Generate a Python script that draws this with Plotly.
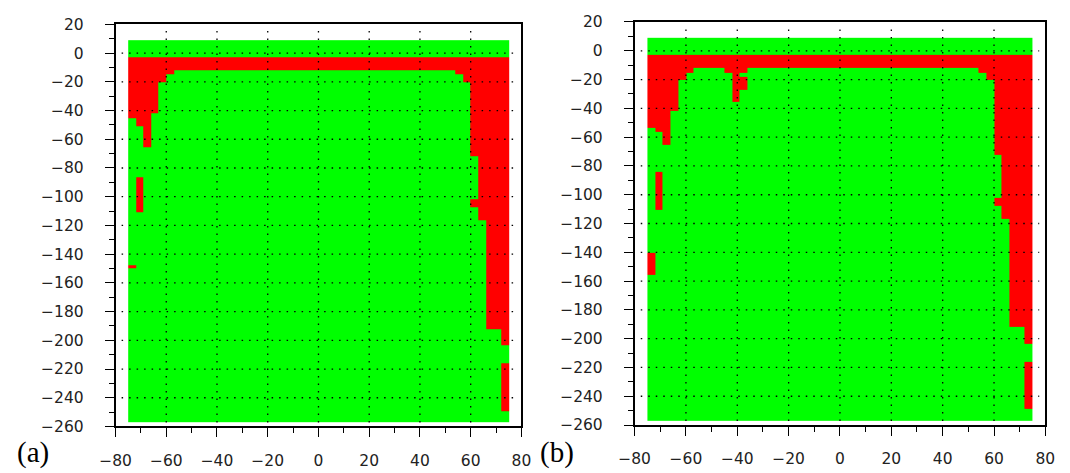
import plotly.graph_objects as go

# ---------------- data ----------------
COLUMN_EDGES = list(range(-75, 78, 3))     # 50 cells, 3 units wide
BAND_TOP = -3                               # top of the red band
DOMAIN_Y = [-257, 9]                        # green domain vertical extent

# depth reached by the red region hanging from the top band, per column
A_DEPTH = [-45, -51, -65.5, -42, -20, -15,
           -12, -12, -12, -12, -12, -12, -12, -12, -12, -12,
           -12, -12, -12, -12, -12, -12, -12, -12, -12, -12,
           -12, -12, -12, -12, -12, -12, -12, -12, -12, -12,
           -12, -12, -12, -12, -12, -12, -12,
           -15, -20, -72, -116.5, -192, -192, -203.5]

B_DEPTH = [-53.5, -56.5, -65.5, -42, -20, -15,
           -12, -12, -12, -12, -15, -35.5, -15, -12, -12, -12,
           -12, -12, -12, -12, -12, -12, -12, -12, -12, -12,
           -12, -12, -12, -12, -12, -12, -12, -12, -12, -12,
           -12, -12, -12, -12, -12, -12, -12,
           -15, -20, -72, -116.5, -192, -192, -203.5]

# isolated red cells: column left edge, top, bottom
A_PATCH_X = [-72, -75, 60, 72]
A_PATCH_TOP = [-86.5, -147.5, -102, -216]
A_PATCH_BOT = [-110.5, -149.5, -107.5, -249]

B_PATCH_X = [-72, -75, 60, 72, -39]
B_PATCH_TOP = [-84, -140.5, -102, -216, -18]
B_PATCH_BOT = [-110.5, -155.5, -107.5, -249, -27]

X_TICKS = [-80, -60, -40, -20, 0, 20, 40, 60, 80]
Y_TICKS = [20, 0, -20, -40, -60, -80, -100, -120, -140, -160, -180,
           -200, -220, -240, -260]
GRID_X = [-60, -40, -20, 0, 20, 40, 60]
GRID_Y = [0, -20, -40, -60, -80, -100, -120, -140, -160, -180, -200,
          -220, -240]
PANEL_LABELS = ["(a)", "(b)"]

GREEN = "#00ff00"
RED = "#ff0000"

W, H = 1070, 473
fig = go.Figure()


def state_grid(depth, px, ptop, pbot):
    """Build the green(0)/red(1) cell table from the read values."""
    y_edges = sorted(set([DOMAIN_Y[0], DOMAIN_Y[1], BAND_TOP] + depth
                         + ptop + pbot))
    z = []
    for k in range(len(y_edges) - 1):
        yc = (y_edges[k] + y_edges[k + 1]) / 2
        row = []
        for j in range(len(COLUMN_EDGES) - 1):
            red = depth[j] < yc < BAND_TOP
            for x0, t, b in zip(px, ptop, pbot):
                if x0 == COLUMN_EDGES[j] and b < yc < t:
                    red = True
            row.append(1 if red else 0)
        z.append(row)
    return y_edges, z


def add_panel(depth, px, ptop, pbot, xa, ya):
    y_edges, z = state_grid(depth, px, ptop, pbot)
    fig.add_trace(go.Heatmap(
        x=COLUMN_EDGES, y=y_edges, z=z, zmin=0, zmax=1,
        colorscale=[[0, GREEN], [1, RED]], showscale=False,
        zsmooth=False, xaxis=xa, yaxis=ya, hoverinfo="skip"))
    for g in GRID_X:
        fig.add_shape(type="line", xref=xa, yref=ya + " domain",
                      x0=g, x1=g, y0=0.01, y1=0.99, layer="above",
                      line=dict(color="black", width=1.3, dash="1.5px,6px"))
    for g in GRID_Y:
        fig.add_shape(type="line", xref=xa + " domain", yref=ya,
                      x0=0.015, x1=0.985, y0=g, y1=g, layer="above",
                      line=dict(color="black", width=1.3, dash="1.5px,6px"))


add_panel(A_DEPTH, A_PATCH_X, A_PATCH_TOP, A_PATCH_BOT, "x", "y")
add_panel(B_DEPTH, B_PATCH_X, B_PATCH_TOP, B_PATCH_BOT, "x2", "y2")

tickfont = dict(family="DejaVu Sans", size=15.5, color="#222")


def xaxis(domain, anchor):
    return dict(domain=domain, anchor=anchor, range=[-80, 80],
                tickmode="array", tickvals=X_TICKS, ticks="outside",
                ticklen=9, tickwidth=1.3, tickcolor="black",
                minor=dict(dtick=10, tick0=0, ticks="outside", ticklen=5,
                           tickwidth=1.3, tickcolor="black", showgrid=False),
                showline=True, linecolor="black", linewidth=1.5, mirror=True,
                showgrid=False, zeroline=False, tickfont=tickfont,
                ticklabelstandoff=10, fixedrange=True)


def yaxis(domain, anchor):
    return dict(domain=domain, anchor=anchor, range=[-260, 20],
                tickmode="array", tickvals=Y_TICKS, ticks="outside",
                ticklen=9, tickwidth=1.3, tickcolor="black",
                minor=dict(dtick=10, tick0=0, ticks="outside", ticklen=5,
                           tickwidth=1.3, tickcolor="black", showgrid=False),
                showline=True, linecolor="black", linewidth=1.5, mirror=True,
                showgrid=False, zeroline=False, tickfont=tickfont,
                ticklabelstandoff=18, fixedrange=True)


fig.update_layout(
    width=W, height=H,
    margin=dict(l=0, r=0, t=0, b=0),
    paper_bgcolor="white", plot_bgcolor="white",
    showlegend=False,
    xaxis=xaxis([102 / W, 518 / W], "y"),
    yaxis=yaxis([(H - 434) / H, (H - 16) / H], "x"),
    xaxis2=xaxis([634 / W, 1055 / W], "y2"),
    yaxis2=yaxis([(H - 432.5) / H, (H - 13.5) / H], "x2"),
)

for label, xpx in zip(PANEL_LABELS, [0, 536]):
    fig.add_annotation(text=label, xref="paper", yref="paper",
                       x=xpx / W, y=(H - 461) / H, xanchor="left",
                       yanchor="middle", showarrow=False, borderpad=0,
                       font=dict(family="Liberation Serif", size=29,
                                 color="black"))

fig.write_html("out.html")
